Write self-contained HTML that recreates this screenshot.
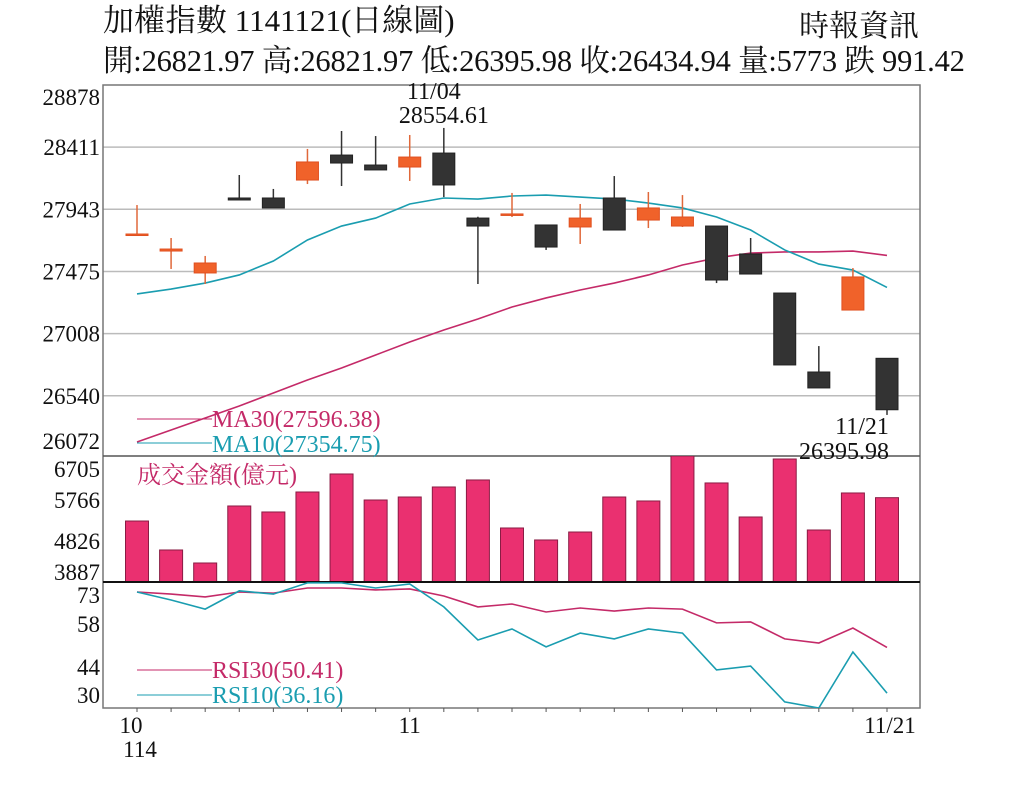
<!DOCTYPE html>
<html><head><meta charset="utf-8">
<style>
html,body{margin:0;padding:0;background:#fff;}
body{width:1024px;height:788px;overflow:hidden;position:relative;font-family:"Liberation Serif","Noto Serif CJK TC","Noto Serif CJK SC",serif;}
.t{position:absolute;white-space:nowrap;color:#111;line-height:1;}
</style></head><body>
<div class="t" style="left:103px;top:5px;font-size:31px;">加權指數 1141121(日線圖)</div>
<div class="t" style="left:799px;top:12px;font-size:30px;">時報資訊</div>
<div class="t" style="left:103px;top:46px;font-size:30.5px;letter-spacing:-0.2px;">開:26821.97 高:26821.97 低:26395.98 收:26434.94 量:5773 跌 991.42</div>
<svg id="chart" width="1024" height="788" style="position:absolute;left:0;top:0;" xmlns="http://www.w3.org/2000/svg"></svg>
<script>
const dates=["10/01","10/02","10/03","10/07","10/08","10/09","10/13","10/14","10/15","10/16","10/17","10/20","10/21","10/22","10/23","10/27","10/28","10/29","10/30","10/31","11/03","11/04","11/05"];
const openP=[27757,27629,27464,28028,28028,28163,28351,28276,28261,28366,27877,27908,27825,27810,28028,27862,27817,27817,27607,27313,26719,27185,26822];
const highP=[27975,27727,27592,28201,28096,28397,28532,28494,28502,28555,27887,28066,27825,27983,28193,28073,28050,27817,27727,27313,26914,27501,26822];
const lowP=[27757,27494,27381,28013,27953,28133,28118,28239,28156,28035,27381,27885,27637,27682,27787,27802,27810,27388,27456,26772,26599,27185,26396];
const closeP=[27757,27644,27539,28013,27953,28299,28291,28239,28336,28126,27817,27908,27659,27877,27787,27953,27885,27411,27456,26772,26599,27434,26435];
const ma10=[27306,27343,27388,27449,27554,27712,27817,27877,27983,28028,28020,28043,28050,28035,28020,27990,27953,27885,27787,27637,27531,27486,27355];
const ma30=[26192,26283,26373,26463,26561,26659,26749,26847,26945,27035,27118,27208,27276,27336,27388,27449,27524,27577,27614,27622,27622,27629,27596];
const volume=[5251,4603,4312,5587,5453,5900,6303,5721,5788,6012,6169,5095,4827,5005,5788,5699,6705,6102,5341,6638,5050,5878,5773];
const rsi30=[67.75,67.1,66.2,67.75,67.4,69,69,68.4,68.7,66.5,63.1,64,61.5,62.75,61.8,62.75,62.4,58.1,58.4,53.1,51.8,56.5,50.41];
const rsi10=[67.75,65.25,62.4,68.1,67.1,70.6,70.6,69,70.25,63.1,52.75,56.2,50.6,54.9,53.1,56.2,54.9,43.4,44.6,33.4,31.5,49,36.16];
const priceTicks=["28878","28411","27943","27475","27008","26540","26072"];
const volTicks=["6705","5766","4826","3887"];
const rsiTicks=["73","58","44","30"];

const NS="http://www.w3.org/2000/svg";
const svg=document.getElementById('chart');
const L=103,R=920,PT=85,PB=458,VT=456,VB=582,RT=582,RB=708;
const xOf=i=>137+i*(887-137)/(dates.length-1);
const yP=v=>PT+(28878-v)*(PB-PT)/(28878-26072);
const yV=v=>VB-(v-3887)*(VB-VT)/(6705-3887);
const yR=v=>668-(v-44)*3.2;
function el(tag,attrs,parent){const e=document.createElementNS(NS,tag);for(const k in attrs)e.setAttribute(k,attrs[k]);(parent||svg).appendChild(e);return e;}
function txt(s,x,y,size,fill,anchor,name){const t=el('text',{x:x,y:y,'font-size':size,fill:fill,'text-anchor':anchor||'start','font-family':'"Liberation Serif","Noto Serif CJK TC",serif'});t.textContent=s;


return t;}
const defs=el('defs',{});
const cp=el('clipPath',{id:'rclip'},defs);el('rect',{x:L,y:RT,width:R-L,height:RB-RT},cp);
const cv=el('clipPath',{id:'vclip'},defs);el('rect',{x:L,y:VT,width:R-L,height:VB-VT},cv);

// price grid
priceTicks.forEach((s,i)=>{const v=+s;const y=yP(v);
 if(i>0&&i<priceTicks.length-1){const g=el('line',{x1:L,x2:R,y1:y,y2:y,stroke:'#bbb','stroke-width':1.5});
 
 }
 txt(s,100,i==0?y+20:(i==priceTicks.length-1?y-9:y+8),23,'#111','end','price-tick-label');});
// frame
const fr=el('rect',{x:L,y:PT,width:R-L,height:RB-PT,fill:'none',stroke:'#777','stroke-width':1.5});


el('line',{x1:L,x2:R,y1:VT,y2:VT,stroke:'#555','stroke-width':1.5});
el('line',{x1:L,x2:R,y1:VB,y2:VB,stroke:'#111','stroke-width':2});

// MA lines
function poly(arr,fy,color,name,clip){const pts=arr.map((v,i)=>xOf(i)+','+fy(v)).join(' ');const p=el('polyline',{points:pts,fill:'none',stroke:color,'stroke-width':1.6});if(clip)p.setAttribute('clip-path',clip);

}
poly(ma30,yP,'#c42a68','ma30-line');
poly(ma10,yP,'#1a9db0','ma10-line');

// candles
const bw=22;
dates.forEach((d,i)=>{const x=xOf(i);const up=closeP[i]>=openP[i];const col=up?'#f0622a':'#333';
 const w=el('line',{x1:x,x2:x,y1:yP(highP[i]),y2:yP(lowP[i]),stroke:up?'#e0683a':'#333','stroke-width':1.5});
 
 
 const top=yP(Math.max(openP[i],closeP[i])),bot=yP(Math.min(openP[i],closeP[i]));
 const b=el('rect',{x:x-bw/2,y:top,width:bw,height:Math.max(bot-top,1.5),fill:col,stroke:up?'#e05020':'#222','stroke-width':1});
 
 
});

// annotations
txt('11/04',xOf(9)-10,99,24,'#111','middle','high-date-label');
txt('28554.61',xOf(9),123,24,'#111','middle','high-value-label');
txt('11/21',xOf(22)-25,434,24,'#111','middle','low-date-label');
txt('26395.98',xOf(22)-43,459,24,'#111','middle','low-value-label');
// legends
el('line',{x1:137,x2:212,y1:419,y2:419,stroke:'#c42a68','stroke-width':1});
txt('MA30(27596.38)',212,427,24,'#c42a68','start','ma30-legend');
el('line',{x1:137,x2:212,y1:443,y2:443,stroke:'#1a9db0','stroke-width':1});
txt('MA10(27354.75)',212,452,24,'#1a9db0','start','ma10-legend');

// volume
const volY=[469,500,541,572];
volTicks.forEach((s,i)=>{txt(s,100,volY[i]+8,23,'#111','end','volume-tick-label');});
txt('成交金額(億元)',137,483,24,'#c42a68','start','volume-title');
volume.forEach((v,i)=>{const x=xOf(i);const y=yV(v);
 const r=el('rect',{x:x-11.5,y:y,width:23,height:VB-y,fill:'#ea3070',stroke:'#8a1c44','stroke-width':1,'clip-path':'url(#vclip)'});
 
 });
el('line',{x1:L,x2:R,y1:VB,y2:VB,stroke:'#111','stroke-width':2});

// RSI
const rsiY=[595,624,667,695];
rsiTicks.forEach((s,i)=>{txt(s,100,rsiY[i]+8,23,'#111','end','rsi-tick-label');});
poly(rsi30,yR,'#c42a68','rsi30-line','url(#rclip)');
poly(rsi10,yR,'#1a9db0','rsi10-line','url(#rclip)');
el('line',{x1:137,x2:212,y1:670,y2:670,stroke:'#c42a68','stroke-width':1});
txt('RSI30(50.41)',212,678,24,'#c42a68','start','rsi30-legend');
el('line',{x1:137,x2:212,y1:695,y2:695,stroke:'#1a9db0','stroke-width':1});
txt('RSI10(36.16)',212,703,24,'#1a9db0','start','rsi10-legend');

// x ticks
dates.forEach((d,i)=>{const t=el('line',{x1:xOf(i),x2:xOf(i),y1:RB,y2:RB+4,stroke:'#555','stroke-width':1});
 
 });
txt('10',xOf(0)-6,733,23,'#111','middle','x-label-oct');
txt('114',xOf(0)+3,757,23,'#111','middle','x-label-year');
txt('11',xOf(8),733,23,'#111','middle','x-label-nov');
txt('11/21',xOf(22)+3,733,23,'#111','middle','x-label-last');
</script>
</body></html>
